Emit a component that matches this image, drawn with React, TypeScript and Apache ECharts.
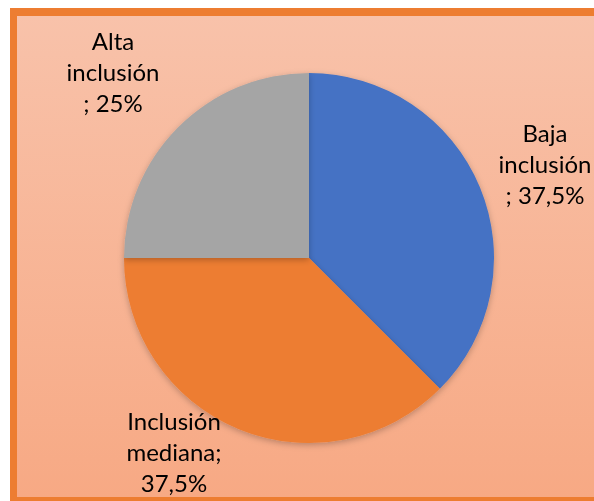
import React, { useEffect, useRef } from "react";
import * as echarts from "echarts";

const categories = ["Baja inclusión", "Inclusión mediana", "Alta inclusión"];
const values = [37.5, 37.5, 25];
const colors = ["#4472C4", "#ED7D31", "#A5A5A5"];
const labelTexts = ["Baja\ninclusión\n; 37,5%", "Inclusión\nmediana;\n37,5%", "Alta\ninclusión\n; 25%"];
const labelPos = [
  [545, 163],
  [174, 451],
  [113, 71],
];

export default function App() {
  const ref = useRef<HTMLDivElement>(null);
  useEffect(() => {
    const chart = echarts.init(ref.current!, null, { renderer: "svg" });
    chart.setOption({
      animation: false,
      graphic: [
        { type: "rect", silent: true, z: -10, shape: { x: 10, y: 8, width: 600, height: 500 }, style: { fill: "#ED7D31" } },
        {
          type: "rect",
          silent: true,
          z: -9,
          shape: { x: 17, y: 16, width: 600, height: 481 },
          style: {
            fill: new echarts.graphic.LinearGradient(0, 0, 0, 1, [
              { offset: 0, color: "#F8C2AA" },
              { offset: 1, color: "#F7A984" },
            ]),
          },
        },
      ],
      series: [
        {
          type: "pie",
          center: [309, 258],
          radius: 185,
          startAngle: 90,
          clockwise: true,
          avoidLabelOverlap: false,
          itemStyle: { shadowBlur: 6, shadowColor: "rgba(0,0,0,0.25)", shadowOffsetY: 2 },
          label: {
            show: true,
            position: "outside",
            formatter: (p: any) => labelTexts[p.dataIndex],
            fontFamily: "Lato",
            fontSize: 24,
            lineHeight: 31,
            color: "#000",
            align: "center",
          },
          labelLine: { show: false },
          labelLayout: (p: any) => ({
            x: labelPos[p.dataIndex][0],
            y: labelPos[p.dataIndex][1],
            align: "center",
            verticalAlign: "middle",
          }),
          data: categories.map((c, i) => ({ name: c, value: values[i], itemStyle: { color: colors[i] } })),
        },
      ],
    });
    return () => chart.dispose();
  }, []);
  return <div ref={ref} style={{ position: "fixed", left: 0, top: 0, width: 594, height: 501 }} />;
}
